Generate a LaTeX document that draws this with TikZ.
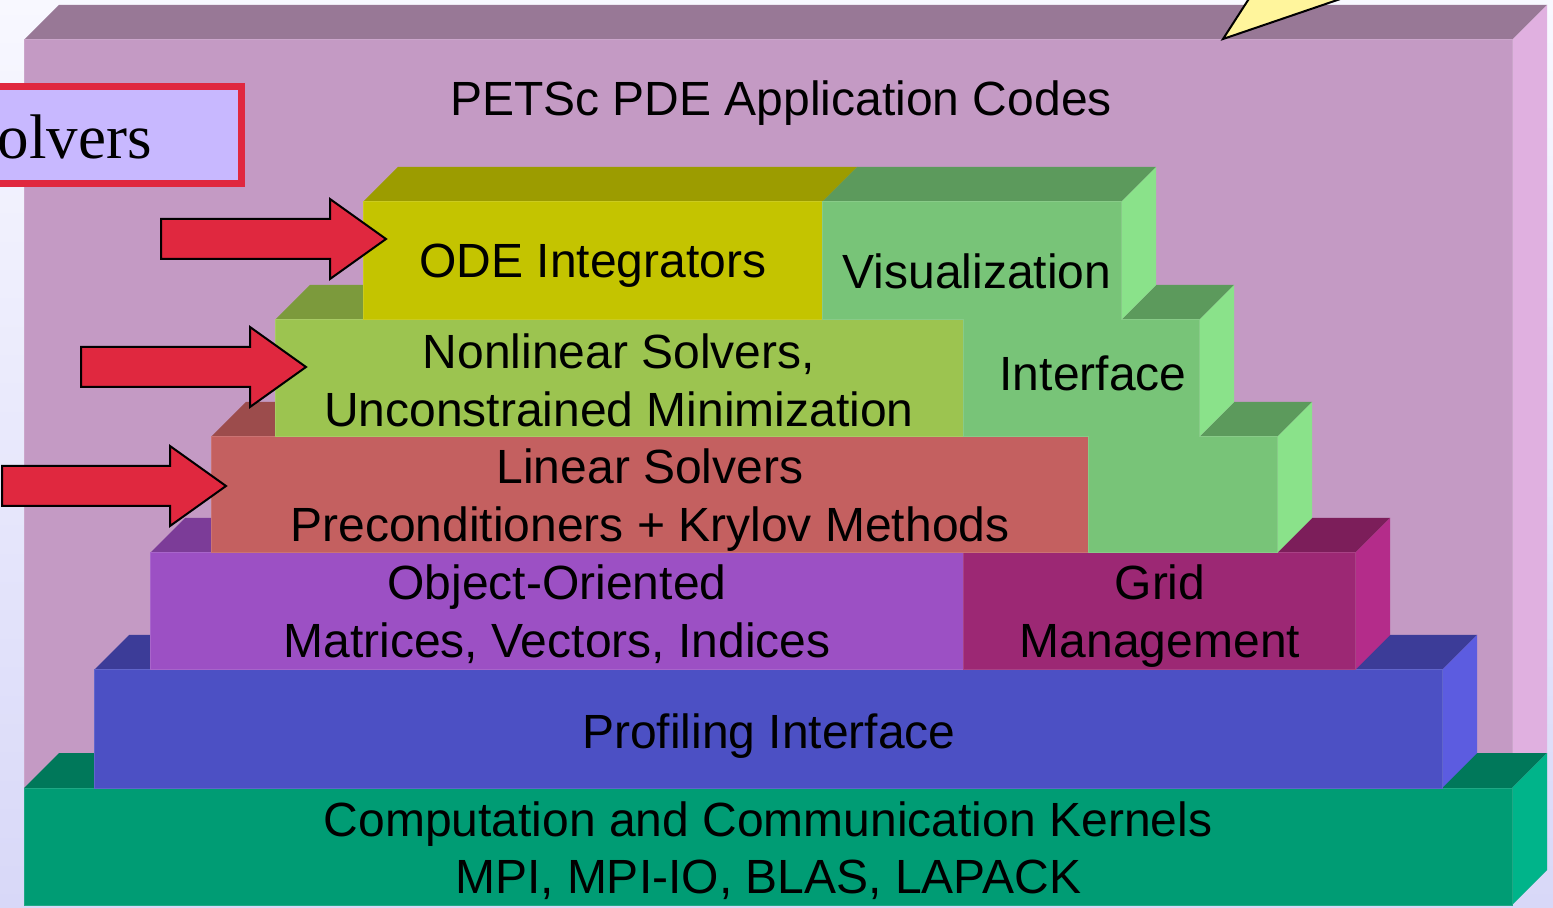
\documentclass[tikz,border=0pt]{standalone}
\usepackage{fontspec}
\setmainfont{Liberation Sans}
\newfontfamily\timesface{Liberation Serif}
\definecolor{bgtop}{HTML}{F8F8FF}
\definecolor{bgbot}{HTML}{D8D8F8}
\definecolor{boxtop}{HTML}{987896}
\definecolor{boxfront}{HTML}{C49AC4}
\definecolor{boxside}{HTML}{E0B0E0}
\definecolor{kfront}{HTML}{009C74}
\definecolor{ktop}{HTML}{00785A}
\definecolor{kside}{HTML}{00B48A}
\definecolor{pfront}{HTML}{4C50C4}
\definecolor{ptop}{HTML}{3C3C98}
\definecolor{pside}{HTML}{5C5CE0}
\definecolor{ofront}{HTML}{9C50C4}
\definecolor{otop}{HTML}{7C3C98}
\definecolor{gfront}{HTML}{9C2874}
\definecolor{gtop}{HTML}{7C1E5A}
\definecolor{gside}{HTML}{B42C8A}
\definecolor{lfront}{HTML}{C46060}
\definecolor{ltop}{HTML}{9C4C4C}
\definecolor{nfront}{HTML}{9CC450}
\definecolor{ntop}{HTML}{7C9A3C}
\definecolor{efront}{HTML}{C4C400}
\definecolor{etop}{HTML}{9C9C00}
\definecolor{vfront}{HTML}{78C478}
\definecolor{vtop}{HTML}{5C9A5C}
\definecolor{vside}{HTML}{8AE28A}
\definecolor{arrowred}{HTML}{E0283F}
\definecolor{lav}{HTML}{C8B8FF}
\definecolor{calloutyellow}{HTML}{FFF59C}

% block: x1, y1 (front top), x2, y2 (front bottom), front, top, side colours
\newcommand\pblock[7]{%
  \fill[#6] (#1,#2) -- ({#1+35},{#2-35}) -- ({#3+35},{#2-35}) -- (#3,#2) -- cycle;
  \fill[#7] (#3,#2) -- ({#3+35},{#2-35}) -- ({#3+35},{#4-35}) -- (#3,#4) -- cycle;
  \filldraw[fill=#5, draw=#5!88!white, line width=0.5pt] (#1,#2) rectangle (#3,#4);}
% red block arrow: tail x, tip x, centre y
\newcommand\redarrow[3]{%
  \filldraw[arrowshape] (#1,{#3-20}) -- ({#2-56},{#3-20}) -- ({#2-56},{#3-40}) -- (#2,#3)
    -- ({#2-56},{#3+40}) -- ({#2-56},{#3+20}) -- (#1,{#3+20}) -- cycle;}

\begin{document}
\begin{tikzpicture}[x=0.5pt,y=-0.5pt,
  lbl/.style={font=\fontsize{24}{28.75}\selectfont, inner sep=0pt, anchor=base},
  arrowshape/.style={fill=arrowred, draw=black, line width=1pt, line join=miter}]
\useasboundingbox (0,0) rectangle (1553,908);
\clip (0,0) rectangle (1553,908);
\shade[top color=bgtop, bottom color=bgbot] (0,0) rectangle (1553,908);

% outer application box
\pblock{24}{40}{1512}{905}{boxfront}{boxtop}{boxside}
% layers from bottom to top
\pblock{24}{788}{1512}{905}{kfront}{ktop}{kside}
\pblock{94}{670}{1442}{788}{pfront}{ptop}{pside}
\pblock{150}{553}{963}{670}{ofront}{otop}{otop}
\pblock{963}{553}{1355}{670}{gfront}{gtop}{gside}
\pblock{211}{437}{1088}{553}{lfront}{ltop}{ltop}
\pblock{275}{320}{963}{437}{nfront}{ntop}{ntop}
\pblock{363}{202}{822}{320}{efront}{etop}{etop}

% green staircase (Visualization Interface)
\fill[vtop] (822,202) -- (857,167) -- (1156,167) -- (1121,202) -- cycle;
\fill[vtop] (1121,320) -- (1156,285) -- (1234,285) -- (1199,320) -- cycle;
\fill[vtop] (1199,437) -- (1234,402) -- (1312,402) -- (1277,437) -- cycle;
\fill[vside] (1121,202) -- (1156,167) -- (1156,285) -- (1121,320) -- cycle;
\fill[vside] (1199,320) -- (1234,285) -- (1234,402) -- (1199,437) -- cycle;
\fill[vside] (1277,437) -- (1312,402) -- (1312,518) -- (1277,553) -- cycle;
\filldraw[fill=vfront, draw=vfront!88!white, line width=0.5pt] (822,202) -- (1121,202) -- (1121,320) -- (1199,320) -- (1199,437)
  -- (1277,437) -- (1277,553) -- (1088,553) -- (1088,437) -- (963,437)
  -- (963,320) -- (822,320) -- cycle;

% labels
\node[lbl] (app) at (781,116) {PETSc PDE Application Codes};
\node[lbl] (ode) at (593,278) {ODE Integrators};
\node[lbl] (viz) at (977,289) {Visualization};
\node[lbl] (intf) at (1093,391) {Interface};
\node[lbl] (nls) at (619,369) {\begin{tabular}[t]{@{}c@{}}Nonlinear Solvers,\\Unconstrained Minimization\end{tabular}};
\node[lbl] (lin) at (650,484) {\begin{tabular}[t]{@{}c@{}}Linear Solvers\\Preconditioners + Krylov Methods\end{tabular}};
\node[lbl] (oo) at (557,600) {\begin{tabular}[t]{@{}c@{}}Object-Oriented\\Matrices, Vectors, Indices\end{tabular}};
\node[lbl] (grid) at (1160,600) {\begin{tabular}[t]{@{}c@{}}Grid\\Management\end{tabular}};
\node[lbl] (prof) at (769,748) {Profiling Interface};
\node[lbl] (kern) at (768,836) {\begin{tabular}[t]{@{}c@{}}Computation and Communication Kernels\\MPI, MPI-IO, BLAS, LAPACK\end{tabular}};

% solver callout box
\draw[line width=3.5pt, draw=arrowred, fill=lav] (-20,86.5) rectangle (241.5,183.5);
\node[font=\timesface\fontsize{31.5}{36}\selectfont, inner sep=0pt, anchor=base east] (solv) at (152,159) {olvers};

% red arrows
\redarrow{161}{386}{239}
\redarrow{81}{306}{367}
\redarrow{2}{226}{486}

% yellow callout pointer
\filldraw[fill=calloutyellow, draw=black, line width=1pt, line join=miter]
  (1223,39) -- (1252,-6) -- (1355,-6) -- cycle;
\end{tikzpicture}
\end{document}
